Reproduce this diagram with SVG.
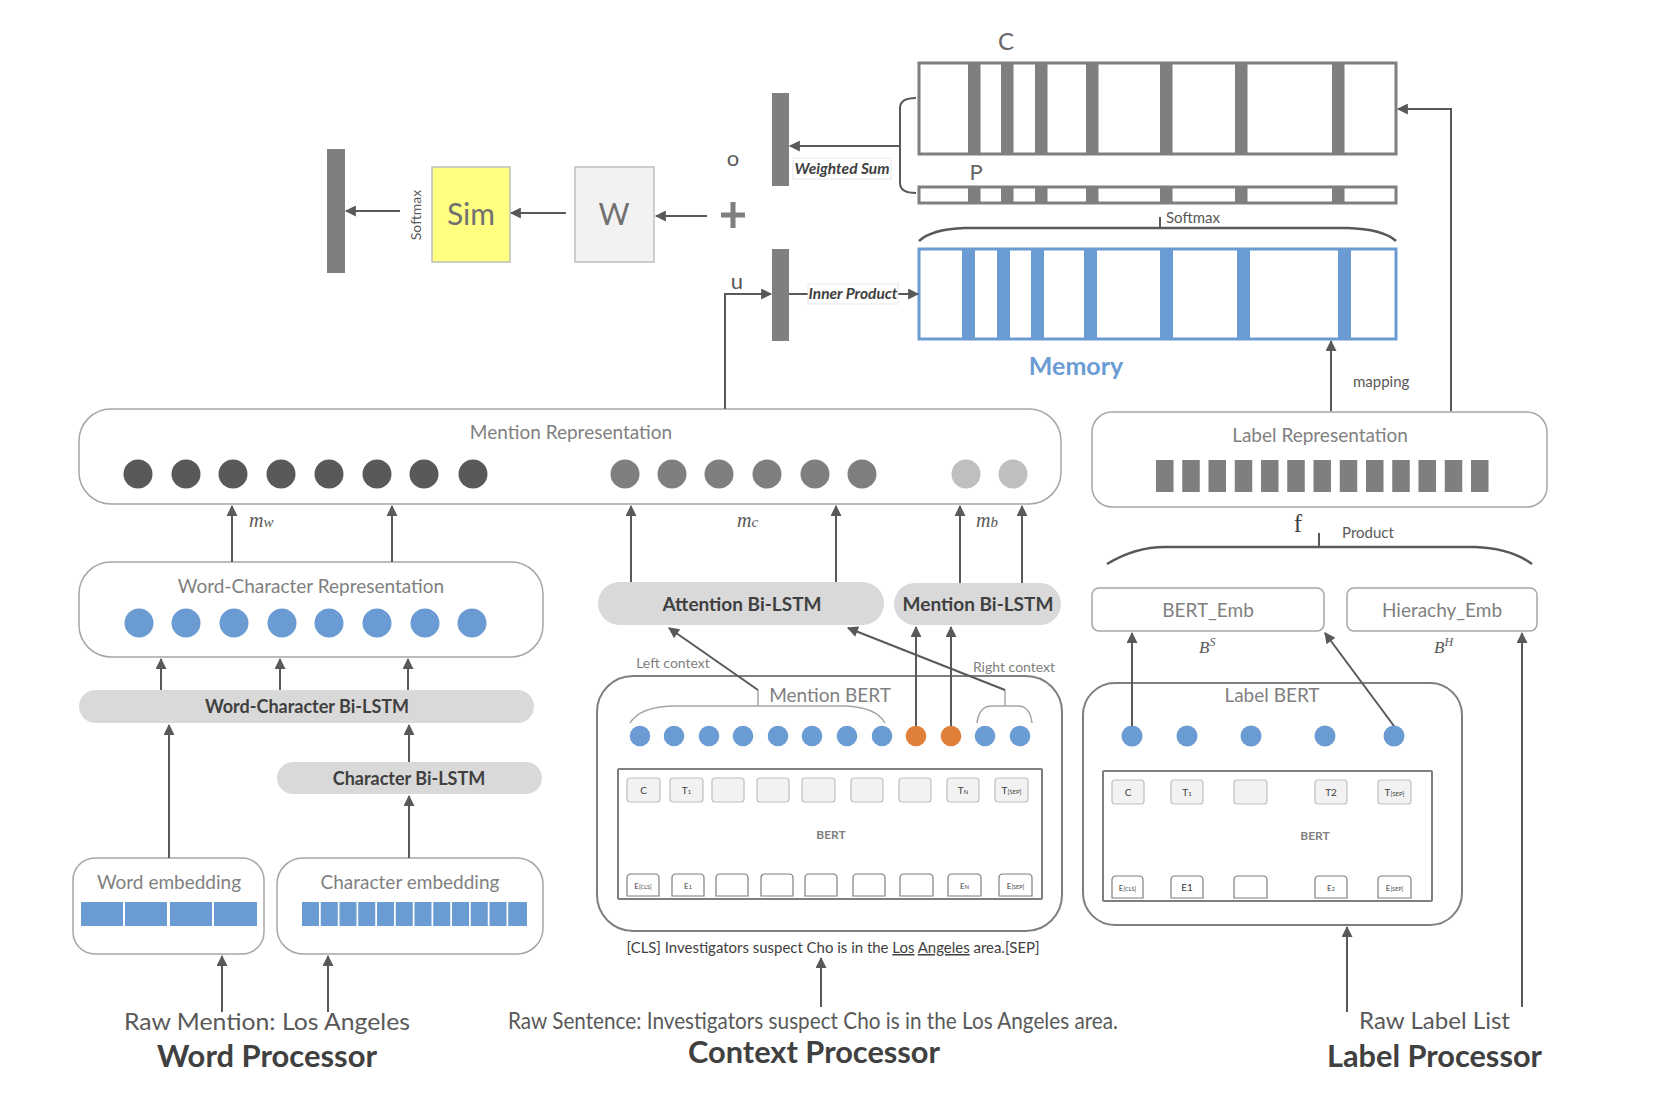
<svg xmlns="http://www.w3.org/2000/svg" width="1658" height="1116" viewBox="0 0 1658 1116">
<style>
text{font-family:"Lato","Open Sans","Liberation Sans",sans-serif;}
.lbl{fill:#7f7f7f;font-size:19px;text-anchor:middle;}
.ctx{fill:#7f7f7f;font-size:14px;text-anchor:middle;}
.bld{fill:#404040;font-size:19px;font-weight:bold;text-anchor:middle;}
.bld18{fill:#404040;font-size:18px;font-weight:bold;text-anchor:middle;}
.sm{fill:#595959;font-size:15px;}
.tk{fill:#404040;font-size:10px;text-anchor:middle;}
.tke{fill:#404040;font-size:8px;text-anchor:middle;}
.ital{fill:#404040;font-size:15.5px;font-weight:bold;font-style:italic;text-anchor:middle;}
.math{font-family:"Liberation Serif","DejaVu Serif",serif;font-style:italic;fill:#595959;}
.box{fill:#fff;stroke:#a6a6a6;stroke-width:1.5;}
.obox{fill:none;stroke:#7f7f7f;stroke-width:2;}
.pill{fill:#d9d9d9;}
.tkt{fill:#f2f2f2;stroke:#bfbfbf;stroke-width:1.2;}
.tkb{fill:#fff;stroke:#7f7f7f;stroke-width:1.2;}
.bar{fill:#7f7f7f;}
.bbar{fill:#6a9bd3;}
.blue{fill:#6a9bd3;}
.orange{fill:#e07f3a;}
.conn{stroke:#595959;stroke-width:2;fill:none;}
.thin{stroke:#a6a6a6;stroke-width:1.5;fill:none;}
.big{fill:#595959;font-size:23px;}
.proc{fill:#404040;font-size:30px;font-weight:bold;}
</style>
<defs>
<marker id="ah" viewBox="0 0 10 10" refX="9" refY="5" markerWidth="12" markerHeight="11" markerUnits="userSpaceOnUse" orient="auto"><path d="M0,0 L10,5 L0,10 z" fill="#595959"/></marker>
</defs>

<!-- top: output pipeline -->
<g id="out-vector"><rect class="bar" x="327" y="149" width="18" height="124"/></g>
<g id="softmax-label"><text x="421" y="215" font-size="14" fill="#595959" text-anchor="middle" transform="rotate(-90 421 215)">Softmax</text></g>
<g id="sim"><rect x="432" y="167" width="78" height="95" fill="#ffff80" stroke="#bfbfbf" stroke-width="1.5"/><text x="471" y="225" font-size="30" fill="#707070" text-anchor="middle">Sim</text></g>
<g id="w"><rect x="575" y="167" width="79" height="95" fill="#f2f2f2" stroke="#bfbfbf" stroke-width="1.5"/><text x="614" y="225" font-size="30" fill="#707070" text-anchor="middle">W</text></g>
<g id="plus"><rect x="721" y="212.5" width="24" height="5" fill="#7f7f7f"/><rect x="730.5" y="202" width="5" height="26" fill="#7f7f7f"/></g>
<g id="o-vector"><rect class="bar" x="772" y="93" width="17" height="93"/><text x="733" y="166" font-size="22" fill="#595959" text-anchor="middle">o</text></g>
<g id="u-vector"><rect class="bar" x="772" y="249" width="17" height="92"/><text x="737" y="289" font-size="22" fill="#595959" text-anchor="middle">u</text></g>

<g id="memory-c">
<text x="1006" y="50" font-size="24" fill="#666" text-anchor="middle">C</text>
<rect x="919" y="63" width="477" height="91" fill="#fff" stroke="#7f7f7f" stroke-width="3"/>
<rect class="bar" x="968" y="63" width="12.5" height="91"/><rect class="bar" x="1001" y="63" width="12.5" height="91"/><rect class="bar" x="1035" y="63" width="12.5" height="91"/><rect class="bar" x="1086" y="63" width="12.5" height="91"/><rect class="bar" x="1160" y="63" width="12.5" height="91"/><rect class="bar" x="1235" y="63" width="12.5" height="91"/><rect class="bar" x="1332" y="63" width="12.5" height="91"/>
</g>
<g id="memory-p">
<text x="976" y="180" font-size="22" fill="#666" text-anchor="middle">P</text>
<rect x="919" y="187" width="477" height="16" fill="#fff" stroke="#7f7f7f" stroke-width="3"/>
<rect class="bar" x="968" y="187" width="12.5" height="16"/><rect class="bar" x="1001" y="187" width="12.5" height="16"/><rect class="bar" x="1035" y="187" width="12.5" height="16"/><rect class="bar" x="1086" y="187" width="12.5" height="16"/><rect class="bar" x="1160" y="187" width="12.5" height="16"/><rect class="bar" x="1235" y="187" width="12.5" height="16"/><rect class="bar" x="1332" y="187" width="12.5" height="16"/>
</g>
<g id="memory">
<rect x="919" y="249" width="477" height="90" fill="#fff" stroke="#6a9bd3" stroke-width="3"/>
<rect class="bbar" x="962" y="249" width="13" height="90"/><rect class="bbar" x="997" y="249" width="13" height="90"/><rect class="bbar" x="1031" y="249" width="13" height="90"/><rect class="bbar" x="1084" y="249" width="13" height="90"/><rect class="bbar" x="1160" y="249" width="13" height="90"/><rect class="bbar" x="1237" y="249" width="13" height="90"/><rect class="bbar" x="1338" y="249" width="13" height="90"/>
<text x="1076" y="375" font-size="25" font-weight="bold" fill="#6a9bd3" text-anchor="middle">Memory</text>
</g>

<!-- Word processor -->
<g id="mention-representation">
<rect class="box" x="79" y="409" width="982" height="95" rx="32"/>
<text class="lbl" x="571" y="439">Mention Representation</text>
<g fill="#595959"><circle cx="138" cy="474" r="14.5"/><circle cx="186" cy="474" r="14.5"/><circle cx="233" cy="474" r="14.5"/><circle cx="281" cy="474" r="14.5"/><circle cx="329" cy="474" r="14.5"/><circle cx="377" cy="474" r="14.5"/><circle cx="424" cy="474" r="14.5"/><circle cx="473" cy="474" r="14.5"/></g>
<g fill="#7f7f7f"><circle cx="625" cy="474" r="14.5"/><circle cx="672" cy="474" r="14.5"/><circle cx="719" cy="474" r="14.5"/><circle cx="767" cy="474" r="14.5"/><circle cx="815" cy="474" r="14.5"/><circle cx="862" cy="474" r="14.5"/></g>
<g fill="#bfbfbf"><circle cx="966" cy="474" r="14.5"/><circle cx="1013" cy="474" r="14.5"/></g>
</g>
<g id="word-character-representation">
<rect class="box" x="79" y="562" width="464" height="95" rx="32"/>
<text class="lbl" x="311" y="593">Word-Character Representation</text>
<g class="blue"><circle cx="139" cy="623" r="14.5"/><circle cx="186" cy="623" r="14.5"/><circle cx="234" cy="623" r="14.5"/><circle cx="282" cy="623" r="14.5"/><circle cx="329" cy="623" r="14.5"/><circle cx="377" cy="623" r="14.5"/><circle cx="425" cy="623" r="14.5"/><circle cx="472" cy="623" r="14.5"/></g>
</g>
<g id="word-character-bilstm"><rect class="pill" x="79" y="690" width="455" height="33" rx="16.5"/><text class="bld18" x="307" y="713">Word-Character Bi-LSTM</text></g>
<g id="character-bilstm"><rect class="pill" x="277" y="762" width="265" height="32" rx="16"/><text class="bld18" x="409" y="785">Character Bi-LSTM</text></g>
<g id="word-embedding">
<rect class="box" x="73" y="858" width="191" height="96" rx="22"/>
<text class="lbl" x="169" y="889">Word embedding</text>
<g class="blue"><rect x="81" y="902" width="42" height="24"/><rect x="125" y="902" width="42" height="24"/><rect x="170" y="902" width="42" height="24"/><rect x="214" y="902" width="43" height="24"/></g>
</g>
<g id="character-embedding">
<rect class="box" x="277" y="858" width="266" height="96" rx="26"/>
<text class="lbl" x="410" y="889">Character embedding</text>
<g class="blue"><rect x="302" y="902" width="17" height="24"/><rect x="320.75" y="902" width="17" height="24"/><rect x="339.5" y="902" width="17" height="24"/><rect x="358.25" y="902" width="17" height="24"/><rect x="377" y="902" width="17" height="24"/><rect x="395.75" y="902" width="17" height="24"/><rect x="414.5" y="902" width="17" height="24"/><rect x="433.25" y="902" width="17" height="24"/><rect x="452" y="902" width="17" height="24"/><rect x="470.75" y="902" width="17" height="24"/><rect x="489.5" y="902" width="17" height="24"/><rect x="508.25" y="902" width="18.75" height="24"/></g>
</g>
<g id="word-processor-labels">
<text class="big" x="124" y="1030" textLength="286" lengthAdjust="spacingAndGlyphs">Raw Mention: Los Angeles</text>
<text class="proc" x="157" y="1067" textLength="220" lengthAdjust="spacingAndGlyphs">Word Processor</text>
</g>

<!-- Context processor -->
<g id="attention-bilstm"><rect class="pill" x="598" y="582" width="286" height="43" rx="21.5"/><text class="bld" x="742" y="611">Attention Bi-LSTM</text></g>
<g id="mention-bilstm"><rect class="pill" x="894" y="583" width="167" height="42" rx="21"/><text class="bld" x="978" y="611">Mention Bi-LSTM</text></g>
<g id="mention-bert">
<rect class="obox" x="597" y="676" width="465" height="255" rx="36"/>
<text class="lbl" x="830" y="702">Mention BERT</text>
<text class="ctx" x="673" y="668">Left context</text>
<text class="ctx" x="1014" y="672">Right context</text>
<path class="thin" d="M630,723 Q640,707 672,706 L845,706 Q876,707 885,723"/>
<path class="thin" d="M977,723 Q979,706 992,706 L1018,706 Q1030,706 1032,723"/>
<line class="thin" x1="758" y1="706" x2="758" y2="690"/>
<line class="thin" x1="1005" y1="706" x2="1005" y2="690"/>
<g class="blue"><circle cx="640" cy="736" r="10.3"/><circle cx="674" cy="736" r="10.3"/><circle cx="709" cy="736" r="10.3"/><circle cx="743" cy="736" r="10.3"/><circle cx="778" cy="736" r="10.3"/><circle cx="812" cy="736" r="10.3"/><circle cx="847" cy="736" r="10.3"/><circle cx="882" cy="736" r="10.3"/><circle cx="985" cy="736" r="10.3"/><circle cx="1020" cy="736" r="10.3"/></g>
<g class="orange"><circle cx="916" cy="736" r="10.3"/><circle cx="951" cy="736" r="10.3"/></g>
<rect class="obox" x="618" y="769" width="424" height="130" rx="1"/>
<rect class="tkt" x="627" y="778" width="33" height="24" rx="3"/><rect class="tkt" x="670" y="778" width="33" height="24" rx="3"/><rect class="tkt" x="712" y="778" width="32" height="24" rx="3"/><rect class="tkt" x="757" y="778" width="32" height="24" rx="3"/><rect class="tkt" x="802" y="778" width="33" height="24" rx="3"/><rect class="tkt" x="851" y="778" width="32" height="24" rx="3"/><rect class="tkt" x="899" y="778" width="32" height="24" rx="3"/><rect class="tkt" x="947" y="778" width="32" height="24" rx="3"/><rect class="tkt" x="995" y="778" width="33" height="24" rx="3"/>
<text class="tk" x="643.5" y="794">C</text>
<text class="tk" x="686.5" y="794">T<tspan font-size="6">1</tspan></text>
<text class="tk" x="963" y="794">T<tspan font-size="6">N</tspan></text>
<text class="tk" x="1011.5" y="794">T<tspan font-size="6">[SEP]</tspan></text>
<text x="831" y="839" font-size="12" font-weight="bold" fill="#7f7f7f" text-anchor="middle">BERT</text>
<path class="tkb" d="M627,896 V878 Q627,874 631,874 H655 Q659,874 659,878 V896 Z"/><path class="tkb" d="M672,896 V878 Q672,874 676,874 H700 Q704,874 704,878 V896 Z"/><path class="tkb" d="M716,896 V878 Q716,874 720,874 H744 Q748,874 748,878 V896 Z"/><path class="tkb" d="M761,896 V878 Q761,874 765,874 H789 Q793,874 793,878 V896 Z"/><path class="tkb" d="M805,896 V878 Q805,874 809,874 H833 Q837,874 837,878 V896 Z"/><path class="tkb" d="M853,896 V878 Q853,874 857,874 H881 Q885,874 885,878 V896 Z"/><path class="tkb" d="M900,896 V878 Q900,874 904,874 H929 Q933,874 933,878 V896 Z"/><path class="tkb" d="M948,896 V878 Q948,874 952,874 H977 Q981,874 981,878 V896 Z"/><path class="tkb" d="M999,896 V878 Q999,874 1003,874 H1028 Q1032,874 1032,878 V896 Z"/>
<text class="tke" x="643" y="889">E<tspan font-size="5.5">[CLS]</tspan></text>
<text class="tke" x="688" y="889">E<tspan font-size="5.5">1</tspan></text>
<text class="tke" x="964.5" y="889">E<tspan font-size="5.5">N</tspan></text>
<text class="tke" x="1015.5" y="889">E<tspan font-size="5.5">[SEP]</tspan></text>
</g>
<g id="sentence">
<text x="833" y="953" font-size="15" fill="#404040" text-anchor="middle" textLength="413" lengthAdjust="spacingAndGlyphs">[CLS] Investigators suspect Cho is in the <tspan text-decoration="underline">Los</tspan> <tspan text-decoration="underline">Angeles</tspan> area.[SEP]</text>
</g>
<g id="context-processor-labels">
<text class="big" x="508" y="1029" textLength="610" lengthAdjust="spacingAndGlyphs">Raw Sentence: Investigators suspect Cho is in the Los Angeles area.</text>
<text class="proc" x="688" y="1063" textLength="252" lengthAdjust="spacingAndGlyphs">Context Processor</text>
</g>

<!-- Label processor -->
<g id="label-representation">
<rect class="box" x="1092" y="412" width="455" height="95" rx="20"/>
<text class="lbl" x="1320" y="442">Label Representation</text>
<g class="bar"><rect x="1156" y="460" width="17.5" height="32"/><rect x="1182.25" y="460" width="17.5" height="32"/><rect x="1208.5" y="460" width="17.5" height="32"/><rect x="1234.75" y="460" width="17.5" height="32"/><rect x="1261" y="460" width="17.5" height="32"/><rect x="1287.25" y="460" width="17.5" height="32"/><rect x="1313.5" y="460" width="17.5" height="32"/><rect x="1339.75" y="460" width="17.5" height="32"/><rect x="1366" y="460" width="17.5" height="32"/><rect x="1392.25" y="460" width="17.5" height="32"/><rect x="1418.5" y="460" width="17.5" height="32"/><rect x="1444.75" y="460" width="17.5" height="32"/><rect x="1471" y="460" width="17.5" height="32"/></g>
</g>
<g id="product">
<text x="1298" y="532" font-size="25" fill="#404040" text-anchor="middle" style="font-family:'Liberation Serif',serif">f</text>
<path d="M1107,564 Q1135,547 1165,547 L1475,547 Q1510,548 1532,564" fill="none" stroke="#595959" stroke-width="2.5"/>
<line x1="1319" y1="533" x2="1319" y2="547" stroke="#595959" stroke-width="2"/>
<text class="sm" x="1368" y="538" text-anchor="middle">Product</text>
</g>
<g id="bert-emb"><rect class="box" x="1092" y="588" width="232" height="43" rx="7"/><text class="lbl" x="1208" y="617">BERT_Emb</text>
<text class="math" x="1199" y="653" font-size="17">B<tspan font-size="12" dy="-7">S</tspan></text></g>
<g id="hierachy-emb"><rect class="box" x="1347" y="588" width="190" height="43" rx="7"/><text class="lbl" x="1442" y="617">Hierachy_Emb</text>
<text class="math" x="1434" y="653" font-size="17">B<tspan font-size="12" dy="-7">H</tspan></text></g>
<g id="label-bert">
<rect class="obox" x="1083" y="683" width="379" height="242" rx="32"/>
<text class="lbl" x="1272" y="702">Label BERT</text>
<g class="blue"><circle cx="1132" cy="736" r="10.5"/><circle cx="1187" cy="736" r="10.5"/><circle cx="1251" cy="736" r="10.5"/><circle cx="1325" cy="736" r="10.5"/><circle cx="1394" cy="736" r="10.5"/></g>
<rect class="obox" x="1103" y="771" width="329" height="130" rx="1"/>
<rect class="tkt" x="1112" y="780" width="32" height="24" rx="3"/><rect class="tkt" x="1171" y="780" width="32" height="24" rx="3"/><rect class="tkt" x="1234" y="780" width="33" height="24" rx="3"/><rect class="tkt" x="1315" y="780" width="32" height="24" rx="3"/><rect class="tkt" x="1378" y="780" width="33" height="24" rx="3"/>
<text class="tk" x="1128" y="796">C</text>
<text class="tk" x="1187" y="796">T<tspan font-size="6">1</tspan></text>
<text class="tk" x="1331" y="796">T2</text>
<text class="tk" x="1394.5" y="796">T<tspan font-size="6">[SEP]</tspan></text>
<text x="1315" y="840" font-size="12" font-weight="bold" fill="#7f7f7f" text-anchor="middle">BERT</text>
<path class="tkb" d="M1112,898 V880 Q1112,876 1116,876 H1139 Q1143,876 1143,880 V898 Z"/><path class="tkb" d="M1171,898 V880 Q1171,876 1175,876 H1199 Q1203,876 1203,880 V898 Z"/><path class="tkb" d="M1234,898 V880 Q1234,876 1238,876 H1263 Q1267,876 1267,880 V898 Z"/><path class="tkb" d="M1315,898 V880 Q1315,876 1319,876 H1343 Q1347,876 1347,880 V898 Z"/><path class="tkb" d="M1378,898 V880 Q1378,876 1382,876 H1407 Q1411,876 1411,880 V898 Z"/>
<text class="tke" x="1127.5" y="891">E<tspan font-size="5.5">[CLS]</tspan></text>
<text class="tk" x="1187" y="891" font-size="9">E1</text>
<text class="tke" x="1331" y="891">E<tspan font-size="5.5">2</tspan></text>
<text class="tke" x="1394.5" y="891">E<tspan font-size="5.5">[SEP]</tspan></text>
</g>
<g id="label-processor-labels">
<text class="big" x="1359" y="1029" textLength="151" lengthAdjust="spacingAndGlyphs">Raw Label List</text>
<text class="proc" x="1327" y="1067" textLength="215" lengthAdjust="spacingAndGlyphs">Label Processor</text>
</g>

<!-- connectors -->
<g id="connectors">
<line class="conn" x1="400" y1="211" x2="346" y2="211" marker-end="url(#ah)"/>
<line class="conn" x1="566" y1="213" x2="511" y2="213" marker-end="url(#ah)"/>
<line class="conn" x1="707" y1="216" x2="656" y2="216" marker-end="url(#ah)"/>
<line class="conn" x1="900" y1="146" x2="790" y2="146" marker-end="url(#ah)"/>
<path class="conn" d="M916,98 Q900,98 900,108 L900,183 Q900,193 916,193"/>
<path class="conn" d="M725,409 L725,294 L771,294" marker-end="url(#ah)"/>
<line class="conn" x1="789" y1="294" x2="808" y2="294"/>
<line class="conn" x1="898" y1="294" x2="918" y2="294" marker-end="url(#ah)"/>
<line class="conn" x1="1160" y1="217" x2="1160" y2="228" stroke-width="1.5"/>
<path d="M919,241 Q932,229 965,228 L1347,228 Q1383,229 1396,241" fill="none" stroke="#595959" stroke-width="2.5"/>
<line class="conn" x1="1331" y1="411" x2="1331" y2="341" marker-end="url(#ah)"/>
<path class="conn" d="M1451,411 L1451,109 L1398,109" marker-end="url(#ah)"/>

<line class="conn" x1="232" y1="562" x2="232" y2="506" marker-end="url(#ah)"/>
<line class="conn" x1="392" y1="562" x2="392" y2="506" marker-end="url(#ah)"/>
<line class="conn" x1="631" y1="582" x2="631" y2="506" marker-end="url(#ah)"/>
<line class="conn" x1="836" y1="582" x2="836" y2="506" marker-end="url(#ah)"/>
<line class="conn" x1="960" y1="583" x2="960" y2="506" marker-end="url(#ah)"/>
<line class="conn" x1="1022" y1="583" x2="1022" y2="506" marker-end="url(#ah)"/>

<line class="conn" x1="161" y1="690" x2="161" y2="659" marker-end="url(#ah)"/>
<line class="conn" x1="280" y1="690" x2="280" y2="659" marker-end="url(#ah)"/>
<line class="conn" x1="408" y1="690" x2="408" y2="659" marker-end="url(#ah)"/>
<line class="conn" x1="169" y1="858" x2="169" y2="725" marker-end="url(#ah)"/>
<line class="conn" x1="409" y1="762" x2="409" y2="725" marker-end="url(#ah)"/>
<line class="conn" x1="409" y1="858" x2="409" y2="796" marker-end="url(#ah)"/>
<line class="conn" x1="222" y1="1012" x2="222" y2="956" marker-end="url(#ah)"/>
<line class="conn" x1="328" y1="1012" x2="328" y2="956" marker-end="url(#ah)"/>

<line class="conn" x1="758" y1="690" x2="669" y2="628" marker-end="url(#ah)"/>
<line class="conn" x1="1005" y1="690" x2="848" y2="628" marker-end="url(#ah)"/>
<line class="conn" x1="916" y1="726" x2="916" y2="627" marker-end="url(#ah)"/>
<line class="conn" x1="951" y1="726" x2="951" y2="627" marker-end="url(#ah)"/>
<line class="conn" x1="821" y1="1007" x2="821" y2="958" marker-end="url(#ah)"/>

<line class="conn" x1="1132" y1="726" x2="1132" y2="633" marker-end="url(#ah)"/>
<line class="conn" x1="1394" y1="726" x2="1325" y2="633" marker-end="url(#ah)"/>
<line class="conn" x1="1522" y1="1007" x2="1522" y2="633" marker-end="url(#ah)"/>
<line class="conn" x1="1347" y1="1012" x2="1347" y2="927" marker-end="url(#ah)"/>
</g>

<g id="edge-labels">
<rect x="793" y="158" width="98" height="21" fill="#fff" stroke="#e0e0e0" stroke-width="0.8"/>
<text class="ital" x="842" y="174">Weighted Sum</text>
<rect x="808" y="284" width="90" height="20" fill="#fff" stroke="#e0e0e0" stroke-width="0.8"/>
<text class="ital" x="853" y="299">Inner Product</text>
<text class="sm" x="1166" y="223">Softmax</text>
<text class="sm" x="1353" y="387">mapping</text>
<text class="math" x="249" y="527" font-size="20">m<tspan font-size="15">w</tspan></text>
<text class="math" x="737" y="527" font-size="20">m<tspan font-size="15">c</tspan></text>
<text class="math" x="976" y="527" font-size="20">m<tspan font-size="15">b</tspan></text>
</g>
</svg>
